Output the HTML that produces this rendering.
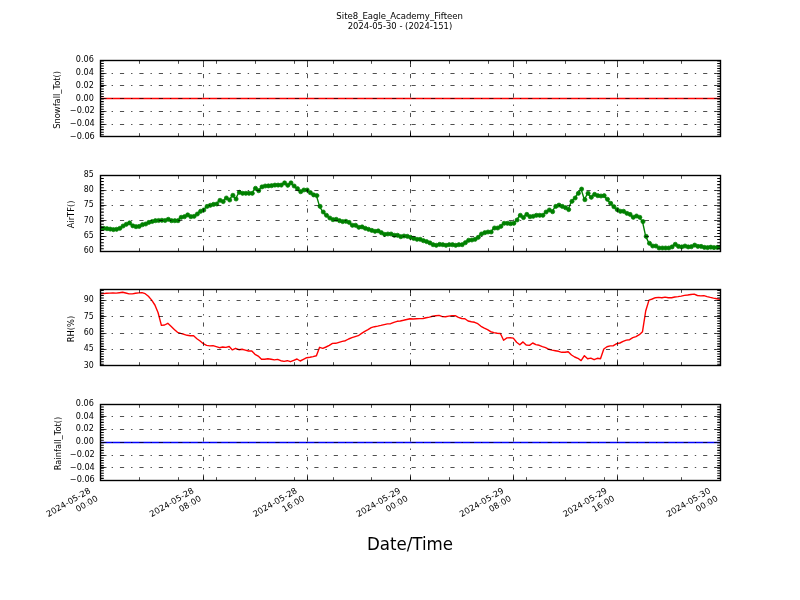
<!DOCTYPE html>
<html><head><meta charset="utf-8"><title>Site8_Eagle_Academy_Fifteen</title>
<style>html,body{margin:0;padding:0;background:#fff;}svg{display:block;will-change:transform}text{font-family:"DejaVu Sans","Liberation Sans",sans-serif;fill:#000}</style></head><body>
<svg width="800" height="600" viewBox="0 0 800 600">
<rect width="800" height="600" fill="#fff"/>
<text x="336.35" y="19.1" font-size="8.33" textLength="126.6" lengthAdjust="spacingAndGlyphs">Site8_Eagle_Academy_Fifteen</text>
<text x="347.75" y="28.6" font-size="8.33" textLength="104.5" lengthAdjust="spacingAndGlyphs">2024-05-30 - (2024-151)</text>
<clipPath id="c0"><rect x="100.0" y="60.00" width="620.0" height="76.36"/></clipPath>
<path d="M100.0 98.50H720.0" stroke="#f00" stroke-width="1.39" fill="none"/>
<path d="M203.50 136.50V60.50M307.50 136.50V60.50M410.50 136.50V60.50M513.50 136.50V60.50M617.50 136.50V60.50M100.50 124.50H720.50M100.50 111.50H720.50M100.50 98.50H720.50M100.50 85.50H720.50M100.50 73.50H720.50" stroke="#000" stroke-width="0.69" stroke-dasharray="4.17 6.94 1.39 6.94" fill="none"/>
<path d="M100.50 136.50v-6M100.50 60.50v6M203.50 136.50v-6M203.50 60.50v6M307.50 136.50v-6M307.50 60.50v6M410.50 136.50v-6M410.50 60.50v6M513.50 136.50v-6M513.50 60.50v6M617.50 136.50v-6M617.50 60.50v6M720.50 136.50v-6M720.50 60.50v6M100.50 136.50h6M720.50 136.50h-6M100.50 124.50h6M720.50 124.50h-6M100.50 111.50h6M720.50 111.50h-6M100.50 98.50h6M720.50 98.50h-6M100.50 85.50h6M720.50 85.50h-6M100.50 73.50h6M720.50 73.50h-6M100.50 60.50h6M720.50 60.50h-6" stroke="#000" stroke-width="0.69" fill="none"/>
<path d="M100.50 136.50v-3.3M100.50 60.50v3.3M139.50 136.50v-3.3M139.50 60.50v3.3M178.50 136.50v-3.3M178.50 60.50v3.3M216.50 136.50v-3.3M216.50 60.50v3.3M255.50 136.50v-3.3M255.50 60.50v3.3M294.50 136.50v-3.3M294.50 60.50v3.3M333.50 136.50v-3.3M333.50 60.50v3.3M371.50 136.50v-3.3M371.50 60.50v3.3M410.50 136.50v-3.3M410.50 60.50v3.3M449.50 136.50v-3.3M449.50 60.50v3.3M488.50 136.50v-3.3M488.50 60.50v3.3M526.50 136.50v-3.3M526.50 60.50v3.3M565.50 136.50v-3.3M565.50 60.50v3.3M604.50 136.50v-3.3M604.50 60.50v3.3M643.50 136.50v-3.3M643.50 60.50v3.3M681.50 136.50v-3.3M681.50 60.50v3.3M720.50 136.50v-3.3M720.50 60.50v3.3" stroke="#000" stroke-width="0.69" fill="none"/>
<path clip-path="url(#c0)" d="M100.50 137.26h3.3M720.50 137.26h-3.3M100.50 134.72h3.3M720.50 134.72h-3.3M100.50 132.17h3.3M720.50 132.17h-3.3M100.50 129.63h3.3M720.50 129.63h-3.3M100.50 127.08h3.3M720.50 127.08h-3.3M100.50 124.54h3.3M720.50 124.54h-3.3M100.50 121.99h3.3M720.50 121.99h-3.3M100.50 119.45h3.3M720.50 119.45h-3.3M100.50 116.90h3.3M720.50 116.90h-3.3M100.50 114.35h3.3M720.50 114.35h-3.3M100.50 111.81h3.3M720.50 111.81h-3.3M100.50 109.26h3.3M720.50 109.26h-3.3M100.50 106.72h3.3M720.50 106.72h-3.3M100.50 104.17h3.3M720.50 104.17h-3.3M100.50 101.63h3.3M720.50 101.63h-3.3M100.50 99.08h3.3M720.50 99.08h-3.3M100.50 96.54h3.3M720.50 96.54h-3.3M100.50 93.99h3.3M720.50 93.99h-3.3M100.50 91.45h3.3M720.50 91.45h-3.3M100.50 88.90h3.3M720.50 88.90h-3.3M100.50 86.35h3.3M720.50 86.35h-3.3M100.50 83.81h3.3M720.50 83.81h-3.3M100.50 81.26h3.3M720.50 81.26h-3.3M100.50 78.72h3.3M720.50 78.72h-3.3M100.50 76.17h3.3M720.50 76.17h-3.3M100.50 73.63h3.3M720.50 73.63h-3.3M100.50 71.08h3.3M720.50 71.08h-3.3M100.50 68.54h3.3M720.50 68.54h-3.3M100.50 65.99h3.3M720.50 65.99h-3.3M100.50 63.45h3.3M720.50 63.45h-3.3M100.50 60.90h3.3M720.50 60.90h-3.3" stroke="#000" stroke-width="1.05" fill="none"/>
<rect x="100.5" y="60.50" width="620.0" height="76.00" fill="none" stroke="#000" stroke-width="1.39"/>
<text x="69.80" y="138.76" font-size="8.33" textLength="25" lengthAdjust="spacingAndGlyphs">−0.06</text>
<text x="69.80" y="126.04" font-size="8.33" textLength="25" lengthAdjust="spacingAndGlyphs">−0.04</text>
<text x="69.80" y="113.31" font-size="8.33" textLength="25" lengthAdjust="spacingAndGlyphs">−0.02</text>
<text x="75.80" y="100.58" font-size="8.33" textLength="18" lengthAdjust="spacingAndGlyphs">0.00</text>
<text x="75.80" y="87.85" font-size="8.33" textLength="18" lengthAdjust="spacingAndGlyphs">0.02</text>
<text x="75.80" y="75.13" font-size="8.33" textLength="18" lengthAdjust="spacingAndGlyphs">0.04</text>
<text x="75.80" y="62.40" font-size="8.33" textLength="18" lengthAdjust="spacingAndGlyphs">0.06</text>
<text transform="translate(60,99.88) rotate(-90)" font-size="8.33" text-anchor="middle">Snowfall_Tot()</text>
<clipPath id="c1"><rect x="100.0" y="174.55" width="620.0" height="76.36"/></clipPath>
<g clip-path="url(#c1)"><path d="M100.0 228.0L103.2 228.3L106.5 228.7L109.7 229.1L112.9 229.6L116.1 229.3L119.4 228.3L122.6 226.0L125.8 224.3L129.1 222.9L132.3 225.8L135.5 226.7L138.8 226.4L142.0 224.7L145.2 224.0L148.4 222.4L151.7 221.5L154.9 220.7L158.1 220.5L161.4 220.3L164.6 220.5L167.8 219.3L171.0 220.7L174.3 220.7L177.5 220.7L180.7 217.3L184.0 216.7L187.2 214.9L190.4 216.7L193.6 216.3L196.9 214.0L200.1 211.3L203.3 210.0L206.6 206.4L209.8 205.3L213.0 204.4L216.2 204.0L219.5 200.3L222.7 201.6L225.9 198.0L229.2 200.0L232.4 195.3L235.6 199.0L238.9 192.3L242.1 193.3L245.3 193.3L248.5 193.3L251.8 193.3L255.0 188.3L258.2 190.7L261.5 186.9L264.7 186.0L267.9 185.9L271.1 185.7L274.4 185.1L277.6 185.1L280.8 185.1L284.1 182.9L287.3 185.3L290.5 182.9L293.8 186.0L297.0 188.7L300.2 191.7L303.4 190.0L306.7 190.0L309.9 192.7L313.1 194.9L316.4 195.6L319.6 206.4L322.8 212.0L326.0 215.3L329.3 218.0L332.5 219.7L335.7 219.3L339.0 220.7L342.2 221.6L345.4 221.3L348.6 222.4L351.9 225.3L355.1 225.3L358.3 227.3L361.6 226.9L364.8 228.3L368.0 229.3L371.2 230.4L374.5 231.3L377.7 230.9L380.9 232.7L384.2 234.4L387.4 234.0L390.6 234.0L393.9 235.3L397.1 235.3L400.3 236.7L403.5 236.0L406.8 236.3L410.0 237.3L413.2 238.4L416.5 239.3L419.7 239.3L422.9 240.7L426.1 241.6L429.4 242.9L432.6 244.7L435.8 245.3L439.1 244.4L442.3 244.7L445.5 245.3L448.8 244.7L452.0 244.7L455.2 245.3L458.4 244.7L461.7 244.7L464.9 242.7L468.1 240.3L471.4 240.0L474.6 239.3L477.8 237.3L481.0 234.0L484.3 232.7L487.5 232.0L490.7 232.0L494.0 228.0L497.2 228.0L500.4 226.4L503.6 223.3L506.9 223.3L510.1 223.7L513.3 223.3L516.6 220.0L519.8 215.3L523.0 217.6L526.2 214.4L529.5 216.7L532.7 216.3L535.9 215.3L539.2 215.3L542.4 215.3L545.6 212.0L548.9 210.0L552.1 211.7L555.3 206.4L558.5 205.1L561.8 206.4L565.0 207.7L568.2 209.6L571.5 201.3L574.7 198.0L577.9 193.3L581.1 189.1L584.4 199.7L587.6 193.3L590.8 197.3L594.1 194.4L597.3 195.7L600.5 196.0L603.8 195.7L607.0 199.3L610.2 203.3L613.4 206.7L616.7 209.6L619.9 211.3L623.1 211.3L626.4 213.3L629.6 214.4L632.8 217.3L636.0 216.0L639.3 217.3L642.5 221.6L645.7 236.4L649.0 243.3L652.2 246.0L655.4 246.0L658.6 248.0L661.9 248.0L665.1 248.0L668.3 248.0L671.6 246.9L674.8 244.3L678.0 246.4L681.2 246.9L684.5 246.0L687.7 246.9L690.9 246.7L694.2 245.1L697.4 246.4L700.6 246.4L703.9 247.4L707.1 247.6L710.3 247.2L713.5 247.6L716.8 247.4L720.0 247.3" stroke="#008000" stroke-width="1.4" fill="none" stroke-linejoin="round"/>
<g fill="#008000" stroke="#008000" stroke-width="0.69"><circle cx="100.5" cy="228.0" r="2.08"/><circle cx="103.7" cy="228.3" r="2.08"/><circle cx="107.0" cy="228.7" r="2.08"/><circle cx="110.2" cy="229.1" r="2.08"/><circle cx="113.4" cy="229.6" r="2.08"/><circle cx="116.6" cy="229.3" r="2.08"/><circle cx="119.9" cy="228.3" r="2.08"/><circle cx="123.1" cy="226.0" r="2.08"/><circle cx="126.3" cy="224.3" r="2.08"/><circle cx="129.6" cy="222.9" r="2.08"/><circle cx="132.8" cy="225.8" r="2.08"/><circle cx="136.0" cy="226.7" r="2.08"/><circle cx="139.2" cy="226.4" r="2.08"/><circle cx="142.5" cy="224.7" r="2.08"/><circle cx="145.7" cy="224.0" r="2.08"/><circle cx="148.9" cy="222.4" r="2.08"/><circle cx="152.2" cy="221.5" r="2.08"/><circle cx="155.4" cy="220.7" r="2.08"/><circle cx="158.6" cy="220.5" r="2.08"/><circle cx="161.9" cy="220.3" r="2.08"/><circle cx="165.1" cy="220.5" r="2.08"/><circle cx="168.3" cy="219.3" r="2.08"/><circle cx="171.5" cy="220.7" r="2.08"/><circle cx="174.8" cy="220.7" r="2.08"/><circle cx="178.0" cy="220.7" r="2.08"/><circle cx="181.2" cy="217.3" r="2.08"/><circle cx="184.5" cy="216.7" r="2.08"/><circle cx="187.7" cy="214.9" r="2.08"/><circle cx="190.9" cy="216.7" r="2.08"/><circle cx="194.1" cy="216.3" r="2.08"/><circle cx="197.4" cy="214.0" r="2.08"/><circle cx="200.6" cy="211.3" r="2.08"/><circle cx="203.8" cy="210.0" r="2.08"/><circle cx="207.1" cy="206.4" r="2.08"/><circle cx="210.3" cy="205.3" r="2.08"/><circle cx="213.5" cy="204.4" r="2.08"/><circle cx="216.8" cy="204.0" r="2.08"/><circle cx="220.0" cy="200.3" r="2.08"/><circle cx="223.2" cy="201.6" r="2.08"/><circle cx="226.4" cy="198.0" r="2.08"/><circle cx="229.7" cy="200.0" r="2.08"/><circle cx="232.9" cy="195.3" r="2.08"/><circle cx="236.1" cy="199.0" r="2.08"/><circle cx="239.4" cy="192.3" r="2.08"/><circle cx="242.6" cy="193.3" r="2.08"/><circle cx="245.8" cy="193.3" r="2.08"/><circle cx="249.0" cy="193.3" r="2.08"/><circle cx="252.3" cy="193.3" r="2.08"/><circle cx="255.5" cy="188.3" r="2.08"/><circle cx="258.7" cy="190.7" r="2.08"/><circle cx="262.0" cy="186.9" r="2.08"/><circle cx="265.2" cy="186.0" r="2.08"/><circle cx="268.4" cy="185.9" r="2.08"/><circle cx="271.6" cy="185.7" r="2.08"/><circle cx="274.9" cy="185.1" r="2.08"/><circle cx="278.1" cy="185.1" r="2.08"/><circle cx="281.3" cy="185.1" r="2.08"/><circle cx="284.6" cy="182.9" r="2.08"/><circle cx="287.8" cy="185.3" r="2.08"/><circle cx="291.0" cy="182.9" r="2.08"/><circle cx="294.2" cy="186.0" r="2.08"/><circle cx="297.5" cy="188.7" r="2.08"/><circle cx="300.7" cy="191.7" r="2.08"/><circle cx="303.9" cy="190.0" r="2.08"/><circle cx="307.2" cy="190.0" r="2.08"/><circle cx="310.4" cy="192.7" r="2.08"/><circle cx="313.6" cy="194.9" r="2.08"/><circle cx="316.9" cy="195.6" r="2.08"/><circle cx="320.1" cy="206.4" r="2.08"/><circle cx="323.3" cy="212.0" r="2.08"/><circle cx="326.5" cy="215.3" r="2.08"/><circle cx="329.8" cy="218.0" r="2.08"/><circle cx="333.0" cy="219.7" r="2.08"/><circle cx="336.2" cy="219.3" r="2.08"/><circle cx="339.5" cy="220.7" r="2.08"/><circle cx="342.7" cy="221.6" r="2.08"/><circle cx="345.9" cy="221.3" r="2.08"/><circle cx="349.1" cy="222.4" r="2.08"/><circle cx="352.4" cy="225.3" r="2.08"/><circle cx="355.6" cy="225.3" r="2.08"/><circle cx="358.8" cy="227.3" r="2.08"/><circle cx="362.1" cy="226.9" r="2.08"/><circle cx="365.3" cy="228.3" r="2.08"/><circle cx="368.5" cy="229.3" r="2.08"/><circle cx="371.8" cy="230.4" r="2.08"/><circle cx="375.0" cy="231.3" r="2.08"/><circle cx="378.2" cy="230.9" r="2.08"/><circle cx="381.4" cy="232.7" r="2.08"/><circle cx="384.7" cy="234.4" r="2.08"/><circle cx="387.9" cy="234.0" r="2.08"/><circle cx="391.1" cy="234.0" r="2.08"/><circle cx="394.4" cy="235.3" r="2.08"/><circle cx="397.6" cy="235.3" r="2.08"/><circle cx="400.8" cy="236.7" r="2.08"/><circle cx="404.0" cy="236.0" r="2.08"/><circle cx="407.3" cy="236.3" r="2.08"/><circle cx="410.5" cy="237.3" r="2.08"/><circle cx="413.7" cy="238.4" r="2.08"/><circle cx="417.0" cy="239.3" r="2.08"/><circle cx="420.2" cy="239.3" r="2.08"/><circle cx="423.4" cy="240.7" r="2.08"/><circle cx="426.6" cy="241.6" r="2.08"/><circle cx="429.9" cy="242.9" r="2.08"/><circle cx="433.1" cy="244.7" r="2.08"/><circle cx="436.3" cy="245.3" r="2.08"/><circle cx="439.6" cy="244.4" r="2.08"/><circle cx="442.8" cy="244.7" r="2.08"/><circle cx="446.0" cy="245.3" r="2.08"/><circle cx="449.2" cy="244.7" r="2.08"/><circle cx="452.5" cy="244.7" r="2.08"/><circle cx="455.7" cy="245.3" r="2.08"/><circle cx="458.9" cy="244.7" r="2.08"/><circle cx="462.2" cy="244.7" r="2.08"/><circle cx="465.4" cy="242.7" r="2.08"/><circle cx="468.6" cy="240.3" r="2.08"/><circle cx="471.9" cy="240.0" r="2.08"/><circle cx="475.1" cy="239.3" r="2.08"/><circle cx="478.3" cy="237.3" r="2.08"/><circle cx="481.5" cy="234.0" r="2.08"/><circle cx="484.8" cy="232.7" r="2.08"/><circle cx="488.0" cy="232.0" r="2.08"/><circle cx="491.2" cy="232.0" r="2.08"/><circle cx="494.5" cy="228.0" r="2.08"/><circle cx="497.7" cy="228.0" r="2.08"/><circle cx="500.9" cy="226.4" r="2.08"/><circle cx="504.1" cy="223.3" r="2.08"/><circle cx="507.4" cy="223.3" r="2.08"/><circle cx="510.6" cy="223.7" r="2.08"/><circle cx="513.8" cy="223.3" r="2.08"/><circle cx="517.1" cy="220.0" r="2.08"/><circle cx="520.3" cy="215.3" r="2.08"/><circle cx="523.5" cy="217.6" r="2.08"/><circle cx="526.8" cy="214.4" r="2.08"/><circle cx="530.0" cy="216.7" r="2.08"/><circle cx="533.2" cy="216.3" r="2.08"/><circle cx="536.4" cy="215.3" r="2.08"/><circle cx="539.7" cy="215.3" r="2.08"/><circle cx="542.9" cy="215.3" r="2.08"/><circle cx="546.1" cy="212.0" r="2.08"/><circle cx="549.4" cy="210.0" r="2.08"/><circle cx="552.6" cy="211.7" r="2.08"/><circle cx="555.8" cy="206.4" r="2.08"/><circle cx="559.0" cy="205.1" r="2.08"/><circle cx="562.3" cy="206.4" r="2.08"/><circle cx="565.5" cy="207.7" r="2.08"/><circle cx="568.7" cy="209.6" r="2.08"/><circle cx="572.0" cy="201.3" r="2.08"/><circle cx="575.2" cy="198.0" r="2.08"/><circle cx="578.4" cy="193.3" r="2.08"/><circle cx="581.6" cy="189.1" r="2.08"/><circle cx="584.9" cy="199.7" r="2.08"/><circle cx="588.1" cy="193.3" r="2.08"/><circle cx="591.3" cy="197.3" r="2.08"/><circle cx="594.6" cy="194.4" r="2.08"/><circle cx="597.8" cy="195.7" r="2.08"/><circle cx="601.0" cy="196.0" r="2.08"/><circle cx="604.2" cy="195.7" r="2.08"/><circle cx="607.5" cy="199.3" r="2.08"/><circle cx="610.7" cy="203.3" r="2.08"/><circle cx="613.9" cy="206.7" r="2.08"/><circle cx="617.2" cy="209.6" r="2.08"/><circle cx="620.4" cy="211.3" r="2.08"/><circle cx="623.6" cy="211.3" r="2.08"/><circle cx="626.9" cy="213.3" r="2.08"/><circle cx="630.1" cy="214.4" r="2.08"/><circle cx="633.3" cy="217.3" r="2.08"/><circle cx="636.5" cy="216.0" r="2.08"/><circle cx="639.8" cy="217.3" r="2.08"/><circle cx="643.0" cy="221.6" r="2.08"/><circle cx="646.2" cy="236.4" r="2.08"/><circle cx="649.5" cy="243.3" r="2.08"/><circle cx="652.7" cy="246.0" r="2.08"/><circle cx="655.9" cy="246.0" r="2.08"/><circle cx="659.1" cy="248.0" r="2.08"/><circle cx="662.4" cy="248.0" r="2.08"/><circle cx="665.6" cy="248.0" r="2.08"/><circle cx="668.8" cy="248.0" r="2.08"/><circle cx="672.1" cy="246.9" r="2.08"/><circle cx="675.3" cy="244.3" r="2.08"/><circle cx="678.5" cy="246.4" r="2.08"/><circle cx="681.8" cy="246.9" r="2.08"/><circle cx="685.0" cy="246.0" r="2.08"/><circle cx="688.2" cy="246.9" r="2.08"/><circle cx="691.4" cy="246.7" r="2.08"/><circle cx="694.7" cy="245.1" r="2.08"/><circle cx="697.9" cy="246.4" r="2.08"/><circle cx="701.1" cy="246.4" r="2.08"/><circle cx="704.4" cy="247.4" r="2.08"/><circle cx="707.6" cy="247.6" r="2.08"/><circle cx="710.8" cy="247.2" r="2.08"/><circle cx="714.0" cy="247.6" r="2.08"/><circle cx="717.3" cy="247.4" r="2.08"/><circle cx="720.5" cy="247.3" r="2.08"/></g>
</g>
<path d="M203.50 251.50V175.50M307.50 251.50V175.50M410.50 251.50V175.50M513.50 251.50V175.50M617.50 251.50V175.50M100.50 236.50H720.50M100.50 220.50H720.50M100.50 205.50H720.50M100.50 190.50H720.50" stroke="#000" stroke-width="0.69" stroke-dasharray="4.17 6.94 1.39 6.94" fill="none"/>
<path d="M100.50 251.50v-6M100.50 175.50v6M203.50 251.50v-6M203.50 175.50v6M307.50 251.50v-6M307.50 175.50v6M410.50 251.50v-6M410.50 175.50v6M513.50 251.50v-6M513.50 175.50v6M617.50 251.50v-6M617.50 175.50v6M720.50 251.50v-6M720.50 175.50v6M100.50 251.50h6M720.50 251.50h-6M100.50 236.50h6M720.50 236.50h-6M100.50 220.50h6M720.50 220.50h-6M100.50 205.50h6M720.50 205.50h-6M100.50 190.50h6M720.50 190.50h-6M100.50 175.50h6M720.50 175.50h-6" stroke="#000" stroke-width="0.69" fill="none"/>
<path d="M100.50 251.50v-3.3M100.50 175.50v3.3M139.50 251.50v-3.3M139.50 175.50v3.3M178.50 251.50v-3.3M178.50 175.50v3.3M216.50 251.50v-3.3M216.50 175.50v3.3M255.50 251.50v-3.3M255.50 175.50v3.3M294.50 251.50v-3.3M294.50 175.50v3.3M333.50 251.50v-3.3M333.50 175.50v3.3M371.50 251.50v-3.3M371.50 175.50v3.3M410.50 251.50v-3.3M410.50 175.50v3.3M449.50 251.50v-3.3M449.50 175.50v3.3M488.50 251.50v-3.3M488.50 175.50v3.3M526.50 251.50v-3.3M526.50 175.50v3.3M565.50 251.50v-3.3M565.50 175.50v3.3M604.50 251.50v-3.3M604.50 175.50v3.3M643.50 251.50v-3.3M643.50 175.50v3.3M681.50 251.50v-3.3M681.50 175.50v3.3M720.50 251.50v-3.3M720.50 175.50v3.3" stroke="#000" stroke-width="0.69" fill="none"/>
<path clip-path="url(#c1)" d="M100.50 251.81h3.3M720.50 251.81h-3.3M100.50 248.75h3.3M720.50 248.75h-3.3M100.50 245.70h3.3M720.50 245.70h-3.3M100.50 242.65h3.3M720.50 242.65h-3.3M100.50 239.59h3.3M720.50 239.59h-3.3M100.50 236.54h3.3M720.50 236.54h-3.3M100.50 233.48h3.3M720.50 233.48h-3.3M100.50 230.43h3.3M720.50 230.43h-3.3M100.50 227.37h3.3M720.50 227.37h-3.3M100.50 224.32h3.3M720.50 224.32h-3.3M100.50 221.26h3.3M720.50 221.26h-3.3M100.50 218.21h3.3M720.50 218.21h-3.3M100.50 215.15h3.3M720.50 215.15h-3.3M100.50 212.10h3.3M720.50 212.10h-3.3M100.50 209.05h3.3M720.50 209.05h-3.3M100.50 205.99h3.3M720.50 205.99h-3.3M100.50 202.94h3.3M720.50 202.94h-3.3M100.50 199.88h3.3M720.50 199.88h-3.3M100.50 196.83h3.3M720.50 196.83h-3.3M100.50 193.77h3.3M720.50 193.77h-3.3M100.50 190.72h3.3M720.50 190.72h-3.3M100.50 187.66h3.3M720.50 187.66h-3.3M100.50 184.61h3.3M720.50 184.61h-3.3M100.50 181.55h3.3M720.50 181.55h-3.3M100.50 178.50h3.3M720.50 178.50h-3.3M100.50 175.45h3.3M720.50 175.45h-3.3" stroke="#000" stroke-width="1.05" fill="none"/>
<rect x="100.5" y="175.50" width="620.0" height="76.00" fill="none" stroke="#000" stroke-width="1.39"/>
<text x="83.80" y="253.31" font-size="8.33" textLength="10" lengthAdjust="spacingAndGlyphs">60</text>
<text x="83.80" y="238.04" font-size="8.33" textLength="10" lengthAdjust="spacingAndGlyphs">65</text>
<text x="83.80" y="222.76" font-size="8.33" textLength="10" lengthAdjust="spacingAndGlyphs">70</text>
<text x="83.80" y="207.49" font-size="8.33" textLength="10" lengthAdjust="spacingAndGlyphs">75</text>
<text x="83.80" y="192.22" font-size="8.33" textLength="10" lengthAdjust="spacingAndGlyphs">80</text>
<text x="83.80" y="176.95" font-size="8.33" textLength="10" lengthAdjust="spacingAndGlyphs">85</text>
<text transform="translate(73.7,214.43) rotate(-90)" font-size="8.33" text-anchor="middle">AirTF()</text>
<clipPath id="c2"><rect x="100.0" y="289.09" width="620.0" height="76.36"/></clipPath>
<path d="M100.0 293.9L103.2 293.6L106.5 293.3L109.7 293.1L112.9 293.0L116.1 293.1L119.4 292.7L122.6 292.3L125.8 293.0L129.1 293.9L132.3 293.9L135.5 293.3L138.8 292.9L142.0 292.6L145.2 293.7L148.4 296.3L151.7 300.1L154.9 305.0L158.1 312.7L161.4 325.4L164.6 325.0L167.8 323.3L171.0 326.3L174.3 329.4L177.5 332.3L180.7 333.4L184.0 334.3L187.2 335.3L190.4 335.8L193.6 335.8L196.9 338.7L200.1 341.0L203.3 343.7L206.6 345.4L209.8 345.9L213.0 345.7L216.2 346.7L219.5 347.7L222.7 347.0L225.9 347.4L229.2 346.5L232.4 349.9L235.6 348.3L238.9 349.7L242.1 349.3L245.3 350.1L248.5 351.0L251.8 351.0L255.0 354.3L258.2 356.1L261.5 359.3L264.7 359.3L267.9 358.7L271.1 359.3L274.4 359.9L277.6 359.4L280.8 360.7L284.1 361.4L287.3 360.7L290.5 361.7L293.8 360.3L297.0 359.0L300.2 361.0L303.4 359.4L306.7 357.7L309.9 357.3L313.1 356.6L316.4 355.7L319.6 347.3L322.8 348.3L326.0 347.0L329.3 345.4L332.5 343.4L335.7 343.3L339.0 342.3L342.2 341.4L345.4 340.7L348.6 339.0L351.9 337.7L355.1 336.6L358.3 335.7L361.6 333.4L364.8 331.3L368.0 329.7L371.2 327.7L374.5 326.7L377.7 326.1L380.9 325.4L384.2 324.6L387.4 323.9L390.6 323.7L393.9 322.3L397.1 321.3L400.3 321.0L403.5 320.3L406.8 319.5L410.0 318.7L413.2 319.0L416.5 318.7L419.7 318.6L422.9 318.5L426.1 317.7L429.4 317.1L432.6 316.3L435.8 315.7L439.1 315.4L442.3 316.6L445.5 316.7L448.8 316.1L452.0 315.7L455.2 315.7L458.4 317.4L461.7 318.5L464.9 318.7L468.1 321.0L471.4 321.7L474.6 322.3L477.8 323.7L481.0 326.3L484.3 328.1L487.5 329.7L490.7 331.7L494.0 332.6L497.2 333.3L500.4 333.5L503.6 340.3L506.9 337.9L510.1 337.7L513.3 338.1L516.6 342.3L519.8 344.7L523.0 341.9L526.2 345.0L529.5 345.4L532.7 343.0L535.9 344.6L539.2 345.3L542.4 346.6L545.6 347.7L548.9 349.3L552.1 350.1L555.3 350.7L558.5 351.3L561.8 352.3L565.0 352.3L568.2 351.7L571.5 355.0L574.7 357.0L577.9 358.3L581.1 360.6L584.4 355.7L587.6 358.7L590.8 358.1L594.1 359.7L597.3 358.3L600.5 358.7L603.8 349.0L607.0 346.7L610.2 345.9L613.4 345.7L616.7 343.7L619.9 343.0L623.1 341.4L626.4 340.1L629.6 339.7L632.8 337.7L636.0 336.6L639.3 334.7L642.5 331.7L645.7 311.0L649.0 300.1L652.2 299.0L655.4 297.7L658.6 297.4L661.9 297.7L665.1 297.1L668.3 297.7L671.6 297.7L674.8 297.0L678.0 296.6L681.2 296.1L684.5 295.4L687.7 295.0L690.9 294.5L694.2 294.1L697.4 295.5L700.6 295.9L703.9 295.6L707.1 296.6L710.3 297.4L713.5 298.1L716.8 298.7L720.0 299.4" stroke="#f00" stroke-width="1.4" fill="none" stroke-linejoin="round"/>
<path d="M203.50 365.50V289.50M307.50 365.50V289.50M410.50 365.50V289.50M513.50 365.50V289.50M617.50 365.50V289.50M100.50 349.50H720.50M100.50 333.50H720.50M100.50 316.50H720.50M100.50 300.50H720.50" stroke="#000" stroke-width="0.69" stroke-dasharray="4.17 6.94 1.39 6.94" fill="none"/>
<path d="M100.50 365.50v-6M100.50 289.50v6M203.50 365.50v-6M203.50 289.50v6M307.50 365.50v-6M307.50 289.50v6M410.50 365.50v-6M410.50 289.50v6M513.50 365.50v-6M513.50 289.50v6M617.50 365.50v-6M617.50 289.50v6M720.50 365.50v-6M720.50 289.50v6M100.50 365.50h6M720.50 365.50h-6M100.50 349.50h6M720.50 349.50h-6M100.50 333.50h6M720.50 333.50h-6M100.50 316.50h6M720.50 316.50h-6M100.50 300.50h6M720.50 300.50h-6" stroke="#000" stroke-width="0.69" fill="none"/>
<path d="M100.50 365.50v-3.3M100.50 289.50v3.3M139.50 365.50v-3.3M139.50 289.50v3.3M178.50 365.50v-3.3M178.50 289.50v3.3M216.50 365.50v-3.3M216.50 289.50v3.3M255.50 365.50v-3.3M255.50 289.50v3.3M294.50 365.50v-3.3M294.50 289.50v3.3M333.50 365.50v-3.3M333.50 289.50v3.3M371.50 365.50v-3.3M371.50 289.50v3.3M410.50 365.50v-3.3M410.50 289.50v3.3M449.50 365.50v-3.3M449.50 289.50v3.3M488.50 365.50v-3.3M488.50 289.50v3.3M526.50 365.50v-3.3M526.50 289.50v3.3M565.50 365.50v-3.3M565.50 289.50v3.3M604.50 365.50v-3.3M604.50 289.50v3.3M643.50 365.50v-3.3M643.50 289.50v3.3M681.50 365.50v-3.3M681.50 289.50v3.3M720.50 365.50v-3.3M720.50 289.50v3.3" stroke="#000" stroke-width="0.69" fill="none"/>
<path clip-path="url(#c2)" d="M100.50 366.75h3.3M720.50 366.75h-3.3M100.50 364.21h3.3M720.50 364.21h-3.3M100.50 361.66h3.3M720.50 361.66h-3.3M100.50 359.12h3.3M720.50 359.12h-3.3M100.50 356.57h3.3M720.50 356.57h-3.3M100.50 354.03h3.3M720.50 354.03h-3.3M100.50 351.48h3.3M720.50 351.48h-3.3M100.50 348.94h3.3M720.50 348.94h-3.3M100.50 346.39h3.3M720.50 346.39h-3.3M100.50 343.85h3.3M720.50 343.85h-3.3M100.50 341.30h3.3M720.50 341.30h-3.3M100.50 338.75h3.3M720.50 338.75h-3.3M100.50 336.21h3.3M720.50 336.21h-3.3M100.50 333.66h3.3M720.50 333.66h-3.3M100.50 331.12h3.3M720.50 331.12h-3.3M100.50 328.57h3.3M720.50 328.57h-3.3M100.50 326.03h3.3M720.50 326.03h-3.3M100.50 323.48h3.3M720.50 323.48h-3.3M100.50 320.94h3.3M720.50 320.94h-3.3M100.50 318.39h3.3M720.50 318.39h-3.3M100.50 315.85h3.3M720.50 315.85h-3.3M100.50 313.30h3.3M720.50 313.30h-3.3M100.50 310.75h3.3M720.50 310.75h-3.3M100.50 308.21h3.3M720.50 308.21h-3.3M100.50 305.66h3.3M720.50 305.66h-3.3M100.50 303.12h3.3M720.50 303.12h-3.3M100.50 300.57h3.3M720.50 300.57h-3.3M100.50 298.03h3.3M720.50 298.03h-3.3M100.50 295.48h3.3M720.50 295.48h-3.3M100.50 292.94h3.3M720.50 292.94h-3.3M100.50 290.39h3.3M720.50 290.39h-3.3" stroke="#000" stroke-width="1.05" fill="none"/>
<rect x="100.5" y="289.50" width="620.0" height="76.00" fill="none" stroke="#000" stroke-width="1.39"/>
<text x="83.80" y="367.85" font-size="8.33" textLength="10" lengthAdjust="spacingAndGlyphs">30</text>
<text x="83.80" y="351.49" font-size="8.33" textLength="10" lengthAdjust="spacingAndGlyphs">45</text>
<text x="83.80" y="335.13" font-size="8.33" textLength="10" lengthAdjust="spacingAndGlyphs">60</text>
<text x="83.80" y="318.76" font-size="8.33" textLength="10" lengthAdjust="spacingAndGlyphs">75</text>
<text x="83.80" y="302.40" font-size="8.33" textLength="10" lengthAdjust="spacingAndGlyphs">90</text>
<text transform="translate(74,328.97) rotate(-90)" font-size="8.33" text-anchor="middle">RH(%)</text>
<clipPath id="c3"><rect x="100.0" y="403.64" width="620.0" height="76.36"/></clipPath>
<path d="M100.0 442.50H720.0" stroke="#00f" stroke-width="1.39" fill="none"/>
<path d="M203.50 480.50V404.50M307.50 480.50V404.50M410.50 480.50V404.50M513.50 480.50V404.50M617.50 480.50V404.50M100.50 467.50H720.50M100.50 455.50H720.50M100.50 442.50H720.50M100.50 429.50H720.50M100.50 416.50H720.50" stroke="#000" stroke-width="0.69" stroke-dasharray="4.17 6.94 1.39 6.94" fill="none"/>
<path d="M100.50 480.50v-6M100.50 404.50v6M203.50 480.50v-6M203.50 404.50v6M307.50 480.50v-6M307.50 404.50v6M410.50 480.50v-6M410.50 404.50v6M513.50 480.50v-6M513.50 404.50v6M617.50 480.50v-6M617.50 404.50v6M720.50 480.50v-6M720.50 404.50v6M100.50 480.50h6M720.50 480.50h-6M100.50 467.50h6M720.50 467.50h-6M100.50 455.50h6M720.50 455.50h-6M100.50 442.50h6M720.50 442.50h-6M100.50 429.50h6M720.50 429.50h-6M100.50 416.50h6M720.50 416.50h-6M100.50 404.50h6M720.50 404.50h-6" stroke="#000" stroke-width="0.69" fill="none"/>
<path d="M100.50 480.50v-3.3M100.50 404.50v3.3M139.50 480.50v-3.3M139.50 404.50v3.3M178.50 480.50v-3.3M178.50 404.50v3.3M216.50 480.50v-3.3M216.50 404.50v3.3M255.50 480.50v-3.3M255.50 404.50v3.3M294.50 480.50v-3.3M294.50 404.50v3.3M333.50 480.50v-3.3M333.50 404.50v3.3M371.50 480.50v-3.3M371.50 404.50v3.3M410.50 480.50v-3.3M410.50 404.50v3.3M449.50 480.50v-3.3M449.50 404.50v3.3M488.50 480.50v-3.3M488.50 404.50v3.3M526.50 480.50v-3.3M526.50 404.50v3.3M565.50 480.50v-3.3M565.50 404.50v3.3M604.50 480.50v-3.3M604.50 404.50v3.3M643.50 480.50v-3.3M643.50 404.50v3.3M681.50 480.50v-3.3M681.50 404.50v3.3M720.50 480.50v-3.3M720.50 404.50v3.3" stroke="#000" stroke-width="0.69" fill="none"/>
<path clip-path="url(#c3)" d="M100.50 480.90h3.3M720.50 480.90h-3.3M100.50 478.35h3.3M720.50 478.35h-3.3M100.50 475.81h3.3M720.50 475.81h-3.3M100.50 473.26h3.3M720.50 473.26h-3.3M100.50 470.72h3.3M720.50 470.72h-3.3M100.50 468.17h3.3M720.50 468.17h-3.3M100.50 465.63h3.3M720.50 465.63h-3.3M100.50 463.08h3.3M720.50 463.08h-3.3M100.50 460.54h3.3M720.50 460.54h-3.3M100.50 457.99h3.3M720.50 457.99h-3.3M100.50 455.45h3.3M720.50 455.45h-3.3M100.50 452.90h3.3M720.50 452.90h-3.3M100.50 450.35h3.3M720.50 450.35h-3.3M100.50 447.81h3.3M720.50 447.81h-3.3M100.50 445.26h3.3M720.50 445.26h-3.3M100.50 442.72h3.3M720.50 442.72h-3.3M100.50 440.17h3.3M720.50 440.17h-3.3M100.50 437.63h3.3M720.50 437.63h-3.3M100.50 435.08h3.3M720.50 435.08h-3.3M100.50 432.54h3.3M720.50 432.54h-3.3M100.50 429.99h3.3M720.50 429.99h-3.3M100.50 427.45h3.3M720.50 427.45h-3.3M100.50 424.90h3.3M720.50 424.90h-3.3M100.50 422.35h3.3M720.50 422.35h-3.3M100.50 419.81h3.3M720.50 419.81h-3.3M100.50 417.26h3.3M720.50 417.26h-3.3M100.50 414.72h3.3M720.50 414.72h-3.3M100.50 412.17h3.3M720.50 412.17h-3.3M100.50 409.63h3.3M720.50 409.63h-3.3M100.50 407.08h3.3M720.50 407.08h-3.3M100.50 404.54h3.3M720.50 404.54h-3.3" stroke="#000" stroke-width="1.05" fill="none"/>
<rect x="100.5" y="404.50" width="620.0" height="76.00" fill="none" stroke="#000" stroke-width="1.39"/>
<text x="69.80" y="482.40" font-size="8.33" textLength="25" lengthAdjust="spacingAndGlyphs">−0.06</text>
<text x="69.80" y="469.67" font-size="8.33" textLength="25" lengthAdjust="spacingAndGlyphs">−0.04</text>
<text x="69.80" y="456.95" font-size="8.33" textLength="25" lengthAdjust="spacingAndGlyphs">−0.02</text>
<text x="75.80" y="444.22" font-size="8.33" textLength="18" lengthAdjust="spacingAndGlyphs">0.00</text>
<text x="75.80" y="431.49" font-size="8.33" textLength="18" lengthAdjust="spacingAndGlyphs">0.02</text>
<text x="75.80" y="418.76" font-size="8.33" textLength="18" lengthAdjust="spacingAndGlyphs">0.04</text>
<text x="75.80" y="406.04" font-size="8.33" textLength="18" lengthAdjust="spacingAndGlyphs">0.06</text>
<text transform="translate(61,443.52) rotate(-90)" font-size="8.33" text-anchor="middle">Rainfall_Tot()</text>
<g transform="translate(89.60,489.80) rotate(-30)"><text x="-49.5" y="3" font-size="8.33" textLength="49.5" lengthAdjust="spacingAndGlyphs">2024-05-28</text><text x="2.55" y="13.4" font-size="8.33" text-anchor="end">00<tspan fill-opacity="0.4">:</tspan>00</text></g>
<g transform="translate(192.93,489.80) rotate(-30)"><text x="-49.5" y="3" font-size="8.33" textLength="49.5" lengthAdjust="spacingAndGlyphs">2024-05-28</text><text x="2.55" y="13.4" font-size="8.33" text-anchor="end">08<tspan fill-opacity="0.4">:</tspan>00</text></g>
<g transform="translate(296.27,489.80) rotate(-30)"><text x="-49.5" y="3" font-size="8.33" textLength="49.5" lengthAdjust="spacingAndGlyphs">2024-05-28</text><text x="2.55" y="13.4" font-size="8.33" text-anchor="end">16<tspan fill-opacity="0.4">:</tspan>00</text></g>
<g transform="translate(399.60,489.80) rotate(-30)"><text x="-49.5" y="3" font-size="8.33" textLength="49.5" lengthAdjust="spacingAndGlyphs">2024-05-29</text><text x="2.55" y="13.4" font-size="8.33" text-anchor="end">00<tspan fill-opacity="0.4">:</tspan>00</text></g>
<g transform="translate(502.93,489.80) rotate(-30)"><text x="-49.5" y="3" font-size="8.33" textLength="49.5" lengthAdjust="spacingAndGlyphs">2024-05-29</text><text x="2.55" y="13.4" font-size="8.33" text-anchor="end">08<tspan fill-opacity="0.4">:</tspan>00</text></g>
<g transform="translate(606.27,489.80) rotate(-30)"><text x="-49.5" y="3" font-size="8.33" textLength="49.5" lengthAdjust="spacingAndGlyphs">2024-05-29</text><text x="2.55" y="13.4" font-size="8.33" text-anchor="end">16<tspan fill-opacity="0.4">:</tspan>00</text></g>
<g transform="translate(709.60,489.80) rotate(-30)"><text x="-49.5" y="3" font-size="8.33" textLength="49.5" lengthAdjust="spacingAndGlyphs">2024-05-30</text><text x="2.55" y="13.4" font-size="8.33" text-anchor="end">00<tspan fill-opacity="0.4">:</tspan>00</text></g>
<text transform="translate(410,550) scale(1,1.05)" font-size="16.67" text-anchor="middle">Date/Time</text>
</svg></body></html>
